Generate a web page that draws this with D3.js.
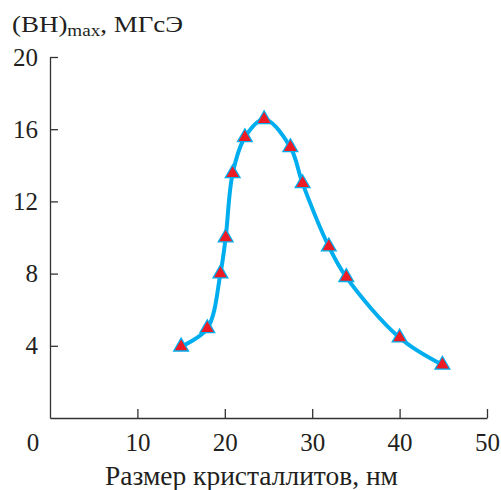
<!DOCTYPE html>
<html>
<head>
<meta charset="utf-8">
<script src="https://cdn.jsdelivr.net/npm/d3@7"></script>
<style>
  html, body { margin: 0; padding: 0; background: #fff; }
</style>
</head>
<body>
<div id="chart"></div>
<script>
// размер кристаллитов, нм
const sizes = [15, 18, 19.5, 20.1, 20.9, 22.3, 24.5, 27.5, 28.9, 31.9, 33.9, 40, 44.9]
// (BH)max, МГсЭ
const bhMax = [3.95, 4.97, 8.0, 10.0, 13.55, 15.55, 16.55, 15.0, 13.0, 9.5, 7.8, 4.45, 2.95]
const xTicks = [10, 20, 30, 40, 50]
const yTicks = [4, 8, 12, 16, 20]

const width = 501
const height = 490
const font = 'Liberation Serif'
const ink = '#231f20'

const svg = d3.select('#chart').append('svg')
    .attr('width', width)
    .attr('height', height)
    .attr('font-family', font)

const x = d3.scaleLinear().domain([0, 50]).range([50, 487])
const y = d3.scaleLinear().domain([0, 20]).range([418, 57])

const data = sizes.map((v, i) => ({x: v, y: bhMax[i]}))

// оси
const gx = svg.append('g')
    .attr('transform', `translate(0, ${y(0)})`)
    .call(d3.axisBottom(x).tickValues(xTicks).tickSizeInner(-9).tickSizeOuter(0).tickPadding(15))
const gy = svg.append('g')
    .attr('transform', `translate(${x(0)}, 0)`)
    .call(d3.axisLeft(y).tickValues(yTicks).tickSizeInner(-8).tickSizeOuter(0).tickPadding(12))

;[gx, gy].forEach(g => {
    g.attr('font-family', font).attr('font-size', 25)
    g.select('.domain').attr('stroke', '#333').attr('stroke-width', 1.3)
    g.selectAll('.tick line').attr('stroke', '#333').attr('stroke-width', 1.3)
    g.selectAll('.tick text').attr('fill', ink)
})

// ноль в начале координат
svg.append('text')
    .attr('x', x(0) - 17)
    .attr('y', y(0) + 15)
    .attr('dy', '0.71em')
    .attr('text-anchor', 'middle')
    .attr('font-size', 25)
    .attr('fill', ink)
    .text('0')

// подписи осей
svg.append('text')
    .attr('x', 105)
    .attr('y', 485)
    .attr('font-size', 27)
    .attr('textLength', 293)
    .attr('lengthAdjust', 'spacingAndGlyphs')
    .attr('fill', ink)
    .text('Размер кристаллитов, нм')

const title = svg.append('text')
    .attr('x', 12)
    .attr('y', 32)
    .attr('font-size', 24)
    .attr('textLength', 171)
    .attr('lengthAdjust', 'spacingAndGlyphs')
    .attr('fill', ink)
title.append('tspan').text('(BH)')
title.append('tspan').attr('dy', 4).attr('font-size', 17).text('max')
title.append('tspan').attr('dy', -4).text(', МГсЭ')

// кривая
const line = d3.line()
    .x(d => x(d.x))
    .y(d => y(d.y))
    .curve(d3.curveCatmullRom.alpha(0.5))

svg.append('path')
    .datum(data)
    .attr('d', line)
    .attr('fill', 'none')
    .attr('stroke', '#00aeef')
    .attr('stroke-width', 4)

// маркеры-треугольники
const tri = d3.symbol().type(d3.symbolTriangle).size(95)
svg.selectAll('path.pt')
    .data(data)
    .join('path')
    .attr('class', 'pt')
    .attr('transform', d => `translate(${x(d.x)}, ${y(d.y)})`)
    .attr('d', tri)
    .attr('fill', '#ed1c24')
    .attr('stroke', '#00aeef')
    .attr('stroke-width', 1.3)
</script>
</body>
</html>
